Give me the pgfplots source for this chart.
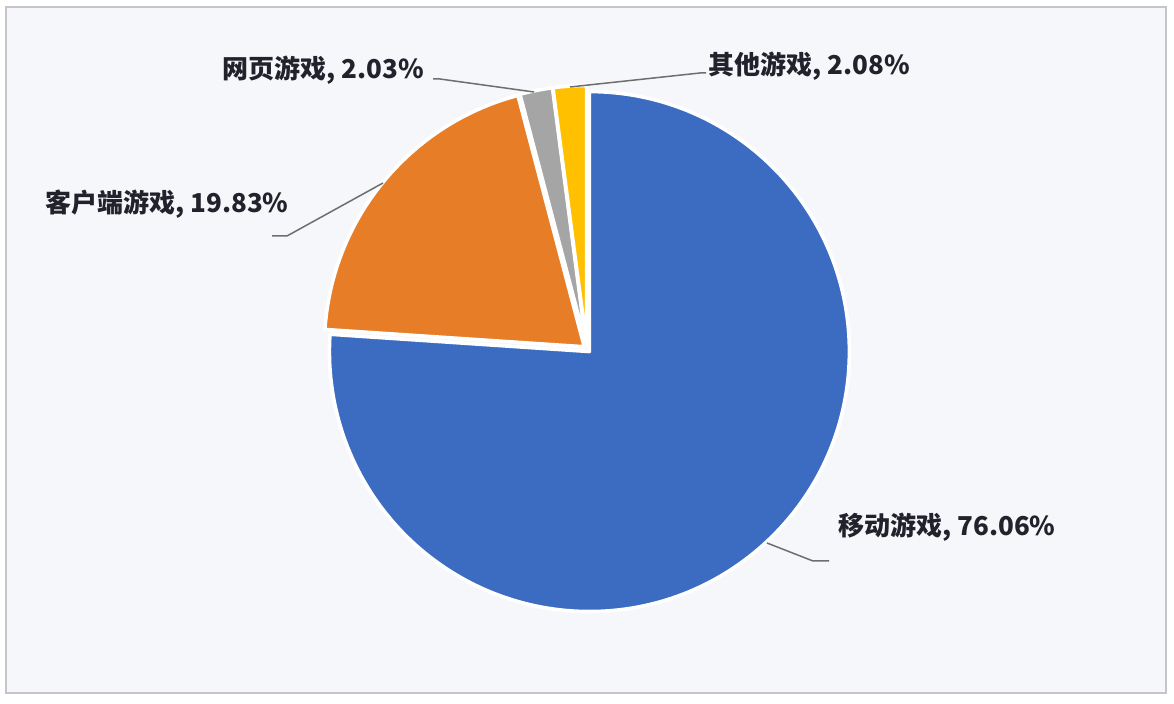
\documentclass[border=0pt]{standalone}
\usepackage{pgfplots}
\pgfplotsset{compat=1.18}
\usepackage{pgfplotstable}
\usetikzlibrary{calc}
\usepackage{fontspec}
\setmainfont{Noto Sans CJK SC}

\definecolor{cblue}{HTML}{3B6CC1}
\definecolor{corange}{HTML}{E77D27}
\definecolor{cgray}{HTML}{A5A5A5}
\definecolor{cyellow}{HTML}{FFC000}
\definecolor{bgpanel}{HTML}{F6F7FA}
\definecolor{framec}{HTML}{C4C6CA}
\definecolor{leader}{HTML}{6E6E6E}
\definecolor{txt}{HTML}{22222C}

% share of each game type, in %, clockwise from 12 o'clock
\pgfplotstableread{
value colour
76.06 cblue
19.83 corange
2.03  cgray
2.08  cyellow
}\piedata

\begin{document}
\begin{tikzpicture}
\begin{axis}[
  width=587bp, height=352bp, scale only axis,
  xmin=0, xmax=1174, ymin=0, ymax=704,
  hide axis, clip=false,
]
  % background and frame
  \fill[white] (axis cs:0,0) rectangle (axis cs:1174,704);
  \filldraw[fill=bgpanel, draw=framec, line width=0.8bp]
    (axis cs:6,11) rectangle (axis cs:1166,697);

  % pie wedges
  \pgfplotsextra{%
    \gdef\cum{0}%
    \pgfplotstablegetrowsof{\piedata}%
    \pgfmathtruncatemacro\nrows{\pgfplotsretval-1}%
    \foreach \i in {0,...,\nrows}{%
      \pgfplotstablegetelem{\i}{value}\of{\piedata}\let\v\pgfplotsretval
      \pgfplotstablegetelem{\i}{colour}\of{\piedata}\let\c\pgfplotsretval
      \pgfmathsetmacro\aA{90-3.6*\cum}%
      \pgfmathsetmacro\aB{90-3.6*(\cum+\v)}%
      \pgfmathsetmacro\aM{(\aA+\aB)/2}%
      \pgfmathsetmacro\dx{3.5*cos(\aM)}%
      \pgfmathsetmacro\dy{3.5*sin(\aM)}%
      \fill[fill=\c, draw=white, line width=1.8bp, line join=round]
        let \p1 = (axis direction cs:260,0), \n1 = {veclen(\x1,\y1)} in
        ($(axis cs:587,355)+(axis direction cs:\dx,\dy)$)
        -- +(\aA:\n1) arc[start angle=\aA, end angle=\aB, radius=\n1] -- cycle;
      \pgfmathsetmacro\tmp{\cum+\v}\xdef\cum{\tmp}%
    }%
  }

  % leader lines
  \addplot[leader, line width=0.75bp] coordinates {(534,612) (440,625) (433,625)};
  \addplot[leader, line width=0.75bp] coordinates {(570,617) (700,631) (706,631)};
  \addplot[leader, line width=0.75bp] coordinates {(383,521) (287,468) (272,468)};
  \addplot[leader, line width=0.75bp] coordinates {(767,161) (813,143) (829,143)};

  % data labels
  \begin{scope}[every node/.style={anchor=base west, inner sep=0pt, text=txt,
      font=\fontsize{13bp}{15bp}\selectfont\bfseries}]
    \node at (axis cs:222,625) {网页游戏, 2.03\%};
    \node at (axis cs:708,629) {其他游戏, 2.08\%};
    \node at (axis cs:45,491) {客户端游戏, 19.83\%};
    \node at (axis cs:838,168) {移动游戏, 76.06\%};
  \end{scope}
\end{axis}
\end{tikzpicture}
\end{document}
